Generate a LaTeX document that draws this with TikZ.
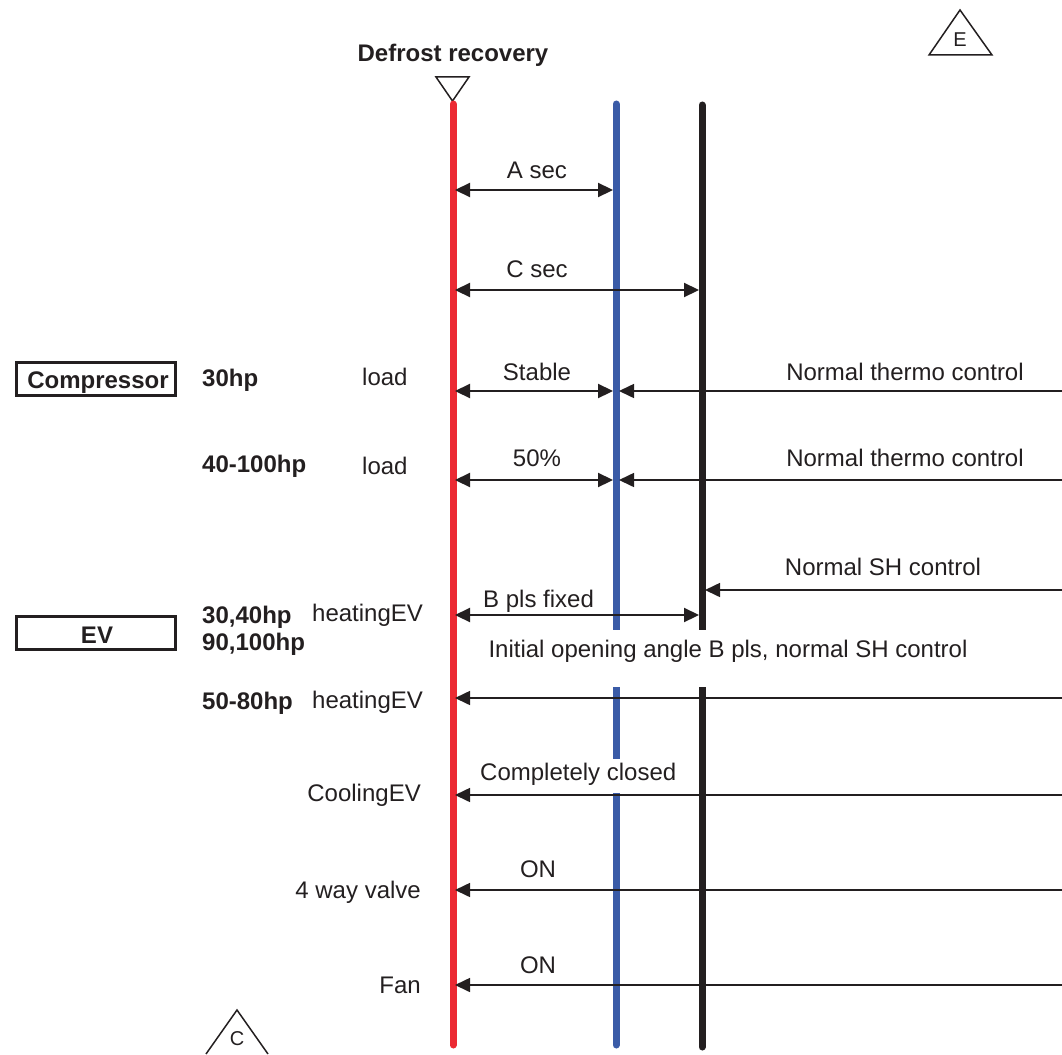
\documentclass[tikz,border=0pt]{standalone}
\usepackage{fontspec}
\setmainfont{Liberation Sans}
\usetikzlibrary{arrows.meta}
\definecolor{myred}{HTML}{EC2A33}
\definecolor{myblue}{HTML}{3A5BA7}
\definecolor{myblack}{HTML}{231F20}
\begin{document}
\begin{tikzpicture}[x=1pt,y=-1pt,
  every node/.style={font=\fontsize{24}{28}\selectfont, text=myblack},
  lbl/.style={inner sep=0pt, anchor=base},
  lblr/.style={inner sep=0pt, anchor=base east},
  lbll/.style={inner sep=0pt, anchor=base west},
  bold/.style={font=\fontsize{24}{28}\selectfont\bfseries},
  boxed/.style={draw=myblack, line width=3pt, inner sep=0pt, minimum width=159pt, minimum height=33pt},
  vline/.style={line width=7pt},
  arr/.style={draw=myblack, line width=1.6pt, -{Triangle[length=15pt,width=14pt]}},
  darr/.style={draw=myblack, line width=2.2pt, {Triangle[length=15pt,width=14pt]}-{Triangle[length=15pt,width=14pt]}},
  tri/.style={draw=myblack, line width=1.5pt, line join=miter}
]
\useasboundingbox (0,0) rectangle (1062,1054);

% header
\node[lbl, bold] (title) at (453,62) {Defrost recovery};
\coordinate (trA) at (436,77); \coordinate (trB) at (469,77); \coordinate (trC) at (452.5,101);
\draw[tri] (trA) -- (trB) -- (trC) -- cycle;

% E triangle
\coordinate (eA) at (960,10); \coordinate (eB) at (992,55); \coordinate (eC) at (929,55);
\draw[tri] (eA) -- (eB) -- (eC) -- cycle;
\node[lbl, font=\fontsize{20}{24}\selectfont] (eT) at (960,47) {E};

% C triangle
\coordinate (cA) at (237,1010); \coordinate (cB) at (268,1054); \coordinate (cC) at (206,1054);
\draw[tri] (cC) -- (cA) -- (cB);
\node[lbl, font=\fontsize{20}{24}\selectfont] (cT) at (237,1045) {C};

% vertical lines
\coordinate (Rt) at (453,104); \coordinate (Rb) at (453,1045);
\draw[vline, myred, line cap=round] (Rt) -- (Rb);

\coordinate (Bt) at (616,104); \coordinate (B1) at (616,110); \coordinate (B2) at (616,630);
\coordinate (B3) at (616,687); \coordinate (B4) at (616,759);
\coordinate (B5) at (616,793); \coordinate (B6) at (616,1040); \coordinate (Bb) at (616,1045);
\draw[vline, myblue, line cap=round] (Bt) -- (B1);
\draw[vline, myblue] (B1) -- (B2);
\draw[vline, myblue] (B3) -- (B4);
\draw[vline, myblue] (B5) -- (B6);
\draw[vline, myblue, line cap=round] (B6) -- (Bb);

\coordinate (Kt) at (702,105); \coordinate (K1) at (702,110); \coordinate (K2) at (702,630);
\coordinate (K3) at (702,687); \coordinate (K4) at (702,1042); \coordinate (Kb) at (702,1047);
\draw[vline, myblack, line cap=round] (Kt) -- (K1);
\draw[vline, myblack] (K1) -- (K2);
\draw[vline, myblack] (K3) -- (K4);
\draw[vline, myblack, line cap=round] (K4) -- (Kb);

% A sec
\coordinate (a1) at (455,190); \coordinate (a2) at (613,190);
\draw[darr] (a1) -- (a2);
\node[lbl] (tA) at (537,178) {A sec};

% C sec
\coordinate (c1) at (455,290); \coordinate (c2) at (699,290);
\draw[darr] (c1) -- (c2);
\node[lbl] (tC) at (537,277) {C sec};

% Compressor rows
\node[boxed] (comp) at (96,379) {};
\node[lbl, bold] (compT) at (98,388) {Compressor};
\node[lbll, bold] (hp30) at (202,386) {30hp};
\node[lbll] (load1) at (362,385) {load};
\coordinate (s1) at (455,391); \coordinate (s2) at (613,391);
\draw[darr] (s1) -- (s2);
\node[lbl] (tS) at (537,380) {Stable};
\coordinate (s3) at (1062,391); \coordinate (s4) at (619,391);
\draw[arr] (s3) -- (s4);
\node[lbl] (tN1) at (905,380) {Normal thermo control};

\node[lbll, bold] (hp40) at (202,472) {40-100hp};
\node[lbll] (load2) at (362,474) {load};
\coordinate (f1) at (455,480); \coordinate (f2) at (613,480);
\draw[darr] (f1) -- (f2);
\node[lbl] (tF) at (537,466) {50\%};
\coordinate (f3) at (1062,480); \coordinate (f4) at (619,480);
\draw[arr] (f3) -- (f4);
\node[lbl] (tN2) at (905,466) {Normal thermo control};

% EV rows
\coordinate (h1) at (1062,590); \coordinate (h2) at (705,590);
\draw[arr] (h1) -- (h2);
\node[lbl] (tSH) at (883,575) {Normal SH control};

\node[boxed] (ev) at (96,633) {};
\node[lbl, bold] (evT) at (97,643) {EV};
\node[lbll, bold] (hp3040) at (202,623) {30,40hp};
\node[lbll, bold] (hp90) at (202,650) {90,100hp};
\node[lbll] (hev1) at (312,621) {heatingEV};
\coordinate (b1) at (455,615); \coordinate (b2) at (699,615);
\draw[darr] (b1) -- (b2);
\node[lbll] (tB) at (483,607) {B pls fixed};
\node[lbl] (tI) at (728,657) {Initial opening angle B pls, normal SH control};

\node[lbll, bold] (hp5080) at (202,709) {50-80hp};
\node[lbll] (hev2) at (312,708) {heatingEV};
\coordinate (g1) at (1062,698); \coordinate (g2) at (455,698);
\draw[arr] (g1) -- (g2);

% Cooling EV
\node[lblr] (cev) at (421,801) {CoolingEV};
\coordinate (k1) at (1062,795); \coordinate (k2) at (455,795);
\draw[arr] (k1) -- (k2);
\node[lbll] (tCC) at (480,780) {Completely closed};

% 4 way valve
\node[lblr] (fwv) at (421,898) {4 way valve};
\coordinate (w1) at (1062,890); \coordinate (w2) at (455,890);
\draw[arr] (w1) -- (w2);
\node[lbl] (tOn1) at (538,877) {ON};

% Fan
\node[lblr] (fan) at (421,993) {Fan};
\coordinate (n1) at (1062,985); \coordinate (n2) at (455,985);
\draw[arr] (n1) -- (n2);
\node[lbl] (tOn2) at (538,973) {ON};
\end{tikzpicture}
\end{document}
